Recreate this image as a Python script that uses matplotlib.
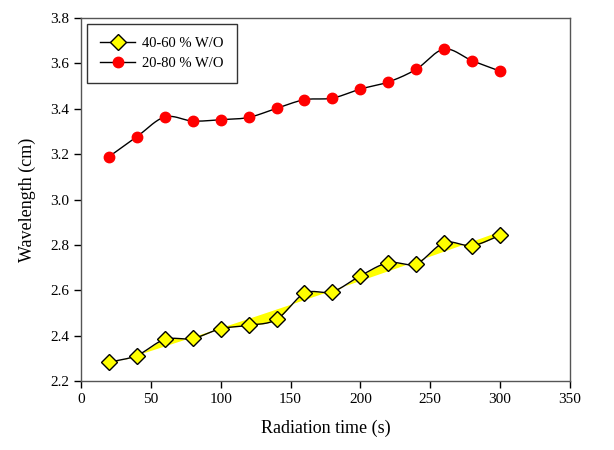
import numpy as np
import matplotlib
matplotlib.use("Agg")
import matplotlib.pyplot as plt

plt.rcParams["font.family"] = ["Liberation Serif", "DejaVu Serif"]

# radiation time (s)
time_s = [20, 40, 60, 80, 100, 120, 140, 160, 180, 200, 220, 240, 260, 280, 300]

# wavelength (cm)
wl_40_60 = [2.283, 2.313, 2.384, 2.388, 2.431, 2.446, 2.472, 2.587, 2.594,
            2.664, 2.722, 2.717, 2.810, 2.797, 2.842]
wl_20_80 = [3.189, 3.277, 3.364, 3.346, 3.352, 3.362, 3.402, 3.440, 3.447,
            3.487, 3.518, 3.574, 3.663, 3.612, 3.566]

label_40_60 = "40-60 % W/O"
label_20_80 = "20-80 % W/O"


def smooth(x, y, n=20):
    # Catmull-Rom spline through the points
    x = np.asarray(x, float)
    y = np.asarray(y, float)
    px = np.concatenate([[2 * x[0] - x[1]], x, [2 * x[-1] - x[-2]]])
    py = np.concatenate([[2 * y[0] - y[1]], y, [2 * y[-1] - y[-2]]])
    xs, ys = [], []
    t = np.linspace(0, 1, n, endpoint=False)
    for i in range(1, len(px) - 2):
        for arr, out in ((px, xs), (py, ys)):
            p0, p1, p2, p3 = arr[i - 1], arr[i], arr[i + 1], arr[i + 2]
            out.append(0.5 * ((2 * p1) + (-p0 + p2) * t
                              + (2 * p0 - 5 * p1 + 4 * p2 - p3) * t ** 2
                              + (-p0 + 3 * p1 - 3 * p2 + p3) * t ** 3))
    xs.append([x[-1]])
    ys.append([y[-1]])
    return np.concatenate(xs), np.concatenate(ys)


fig = plt.figure(figsize=(6.14, 4.5), dpi=100)
ax = fig.add_axes([0.132, 0.153, 0.796, 0.807])

# yellow band between the curve and a quadratic trend
sx, sy = smooth(time_s, wl_40_60)
coef = np.polyfit(time_s, wl_40_60, 2)
ax.fill_between(sx, sy, np.polyval(coef, sx), color="#ffff00", lw=0, zorder=1)

ax.plot(sx, sy, color="black", lw=1, zorder=2)
sx2, sy2 = smooth(time_s, wl_20_80)
ax.plot(sx2, sy2, color="black", lw=1, zorder=2)

ax.plot(time_s, wl_40_60, ls="none", marker="D", ms=8.5, mfc="#ffff00",
        mec="black", mew=1, zorder=3)
ax.plot(time_s, wl_20_80, ls="none", marker="o", ms=7.5, mfc="#ff0000",
        mec="#ff0000", zorder=3)

# legend entries with line + marker
h1, = ax.plot([], [], color="black", lw=1, marker="D", ms=8, mfc="#ffff00",
              mec="black", label=label_40_60)
h2, = ax.plot([], [], color="black", lw=1, marker="o", ms=7.5, mfc="#ff0000",
              mec="#ff0000", label=label_20_80)
leg = ax.legend(handles=[h1, h2], loc="upper left", fontsize=10.5,
                frameon=True, fancybox=False, edgecolor="black",
                borderaxespad=0.4, handlelength=2.4, handletextpad=0.5,
                borderpad=0.9, labelspacing=0.45)
leg.get_frame().set_linewidth(1)

ax.set_xlim(0, 350)
ax.set_ylim(2.2, 3.8)
ax.set_xticks(np.arange(0, 351, 50))
ax.set_yticks(np.arange(2.2, 3.81, 0.2))
ax.set_yticklabels([f"{v:.1f}" for v in np.arange(2.2, 3.81, 0.2)])
ax.tick_params(direction="out", length=5, width=1, labelsize=11)

for sp in ax.spines.values():
    sp.set_color("#555555")
    sp.set_linewidth(1)

ax.set_xlabel("Radiation time (s)", fontsize=13, labelpad=10)
ax.set_ylabel("Wavelength (cm)", fontsize=13, labelpad=10)

fig.savefig("out.png", dpi=100)
